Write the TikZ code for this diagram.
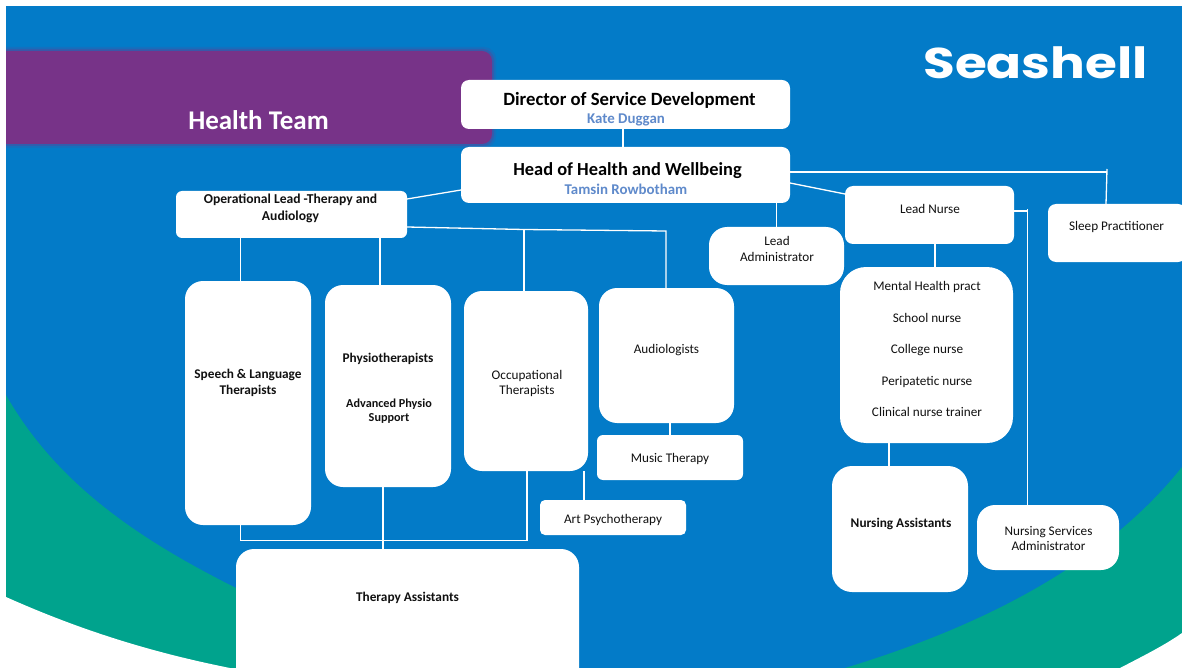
\documentclass[tikz,border=0pt]{standalone}
\usepackage{fontspec}
\setmainfont{Carlito}
\newfontfamily\logofont{Poppins}
\usetikzlibrary{calc}
\definecolor{seablue}{HTML}{037BC8}
\definecolor{seateal}{HTML}{00A38D}
\definecolor{seapurple}{HTML}{773388}
\definecolor{namecol}{HTML}{5F8ACB}
\definecolor{inktext}{HTML}{111111}
\tikzset{
  box/.style={fill=white,inner sep=0pt,outer sep=0pt},
  conn/.style={draw=white,line width=1.3pt},
  txt/.style={text=inktext,inner sep=0pt,align=center,font=\fontsize{13.2}{15.6}\selectfont},
  btxt/.style={txt,font=\fontsize{13.3}{15.6}\selectfont\bfseries},
  nametxt/.style={text=namecol,inner sep=0pt,font=\fontsize{14.9}{16}\selectfont\bfseries},
  headtxt/.style={text=black,inner sep=0pt,font=\fontsize{18.7}{20}\selectfont\bfseries}
}
% name, x1, y1, x2, y2, corner radius
\newcommand{\bx}[6]{\node[box,rounded corners=#6pt,minimum width={(#4-#2)*1pt},minimum height={(#5-#3)*1pt}] (#1) at ({(#2+#4)/2},{(#3+#5)/2}) {};}
\begin{document}
\begin{tikzpicture}[x=1pt,y=-1pt]
\useasboundingbox (0,0) rectangle (1182,668);
\clip (0,0) rectangle (1182,668);
% background
\fill[white] (0,0) rectangle (1182,668);
\fill[seablue] (6,6) rectangle (1182,668);
\fill[seateal] (6,395) .. controls (60,490) and (150,545) .. (240,590) -- (480,700) -- (780,700) -- (845,668)
  .. controls (970,630) and (1100,570) .. (1182,467) -- (1182,700) -- (6,700) -- cycle;
\fill[white] (6,597) .. controls (80,630) and (150,652) .. (230,668) -- (6,668) -- cycle;
\fill[white] (1120,668) .. controls (1145,655) and (1165,645) .. (1182,633) -- (1182,668) -- cycle;
% purple banner with soft edge
\begin{scope}
\clip (6,0) rectangle (520,200);
\fill[seapurple,opacity=.15,rounded corners=12pt] (-30,47) rectangle (496,148);
\fill[seapurple,opacity=.3,rounded corners=11pt] (-30,49) rectangle (494,146);
\fill[seapurple,rounded corners=10pt] (-30,51) rectangle (492,144);
\end{scope}
\node[inner sep=0pt,text=white,font=\fontsize{27}{30}\selectfont\bfseries] (banner) at (258.5,120.5) {Health Team};
% logo
\node[inner sep=0pt,text=white,xscale=1.2,font=\logofont\fontsize{43}{46}\selectfont\bfseries] (logo) at (1035.5,63) {Seashell};
% boxes
\bx{dir}{461}{80}{790}{129}{8}
\bx{head}{461}{147}{790}{203}{8}
\bx{oplead}{176}{191}{407}{238}{6}
\bx{admin}{709}{227}{844}{285}{18}
\bx{leadn}{845}{186}{1014}{244}{8}
\bx{sleep}{1048}{204}{1186}{262}{8}
\bx{mental}{840}{267}{1013}{443}{26}
\bx{nursea}{832}{466}{968}{592}{20}
\bx{nsadmin}{977}{505}{1119}{570}{18}
\bx{speech}{185}{281}{311}{525}{18}
\bx{physio}{325}{285}{451}{487}{18}
\bx{ot}{464}{291}{588}{471}{18}
\bx{audio}{599}{288}{734}{423}{18}
\bx{music}{597}{435}{743}{480}{6}
\bx{art}{540}{500}{686}{535}{5}
\bx{therapy}{236}{549}{579}{690}{18}
% connectors
\draw[conn] (dir.south) ++(-2.5,0) -- ($(head.north)+(-2.5,0)$);
\draw[conn] ($(head.south west)+(0,-13)$) -- ($(oplead.north east)+(0,8)$);
\draw[conn] ($(head.south)+(151,0)$) -- ($(admin.north)+(0,0)$);
\draw[conn] ($(head.south east)+(0,-20)$) -- ($(leadn.north west)+(0,8)$);
\draw[conn] ($(head.north east)+(0,25)$) -- (1106.5,172) coordinate (sleepjoin);
\draw[conn] ($(sleepjoin)+(0.5,-3)$) -- ($(sleep.north)+(-11,0)$);
\draw[conn] (leadn.south -| 935,0) -- (mental.north -| 935,0);
\draw[conn] ($(leadn.north east)+(0,25)$) -- (1027.5,211) coordinate (nsjoin);
\draw[conn] ($(nsjoin)+(0,-2)$) -- (nsadmin.north -| nsjoin);
\draw[conn] (mental.south -| 889,0) -- (nursea.north -| 889,0);
\draw[conn] (oplead.south -| 240.5,0) -- (speech.north -| 240.5,0);
\draw[conn] (oplead.south -| 380,0) -- (physio.north -| 380,0);
\draw[conn] ($(oplead.south east)+(0,-11)$) -- (524,229.5) coordinate (otjoin) -- (666,231) coordinate (audjoin) -- (audio.north -| audjoin);
\draw[conn] (otjoin) -- (ot.north -| otjoin);
\draw[conn] (audio.south -| 670,0) -- (music.north -| 670,0);
\draw[conn] (ot.south -| 584,0) -- (art.north -| 584,0);
\draw[conn] (speech.south -| 240.5,0) -- (240.5,540.5) -- (527,540.5) -- (ot.south -| 527,0);
\draw[conn] (physio.south -| 383,0) -- (therapy.north -| 383,0);
% labels
\node[headtxt] (tdir) at (629.5,100.5) {Director of Service Development};
\node[nametxt] (tkate) at (626,119.5) {Kate Duggan};
\node[headtxt,font=\fontsize{18.4}{20}\selectfont\bfseries] (thead) at (627.5,170.5) {Head of Health and Wellbeing};
\node[nametxt] (ttam) at (626,189.5) {Tamsin Rowbotham};
\node[btxt,font=\fontsize{13.6}{17}\selectfont\bfseries] (top) at (290.5,208) {Operational Lead -Therapy and\\Audiology};
\node[txt] (tadmin) at (777,249) {Lead\\Administrator};
\node[txt] (tleadn) at (930,209) {Lead Nurse};
\node[txt] (tsleep) at (1116.5,227) {Sleep Practitioner};
\node[txt,font=\fontsize{13.2}{31.5}\selectfont] (tmental) at (927,349) {Mental Health pract\\School nurse\\College nurse\\Peripatetic nurse\\Clinical nurse trainer};
\node[btxt] (tnursea) at (901,524) {Nursing Assistants};
\node[txt] (tnsadmin) at (1048.5,538.5) {Nursing Services\\Administrator};
\node[btxt] (tspeech) at (248,383) {Speech \& Language\\Therapists};
\node[btxt] (tphysio) at (388,359) {Physiotherapists};
\node[btxt,font=\fontsize{12.2}{14}\selectfont\bfseries] (tadv) at (389,411.5) {Advanced Physio\\Support};
\node[txt] (tot) at (527,383.5) {Occupational\\Therapists};
\node[txt] (taudio) at (666.5,350) {Audiologists};
\node[txt] (tmusic) at (670,459) {Music Therapy};
\node[txt] (tart) at (613,520) {Art Psychotherapy};
\node[btxt] (ttherapy) at (407.5,598) {Therapy Assistants};
\end{tikzpicture}
\end{document}
